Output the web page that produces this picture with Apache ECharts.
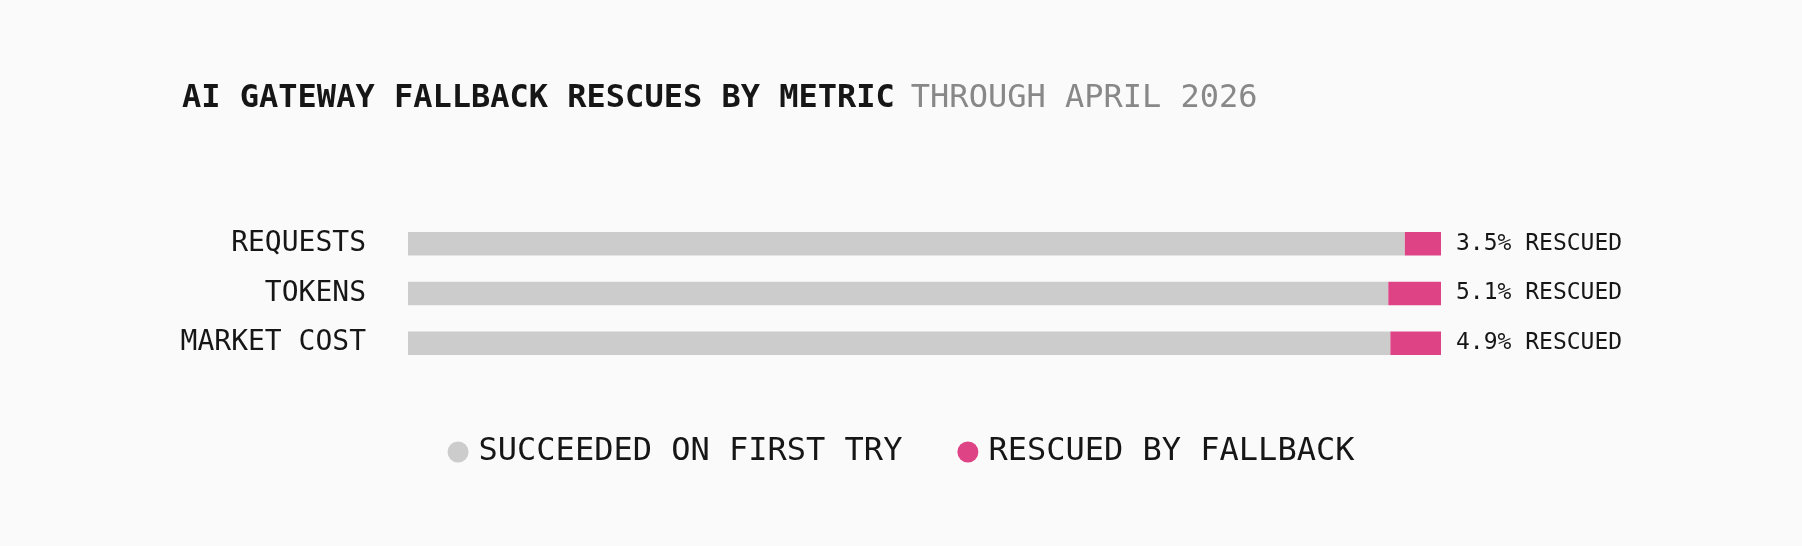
<!DOCTYPE html>
<html>
<head>
<meta charset="utf-8">
<script src="https://cdn.jsdelivr.net/npm/echarts@6/dist/echarts.min.js"></script>
<style>
html,body{margin:0;padding:0;background:#fafafa;}
#chart{width:1802px;height:546px;}
</style>
</head>
<body>
<div id="chart"></div>
<script>
const categories = ['REQUESTS', 'TOKENS', 'MARKET COST'];
const succeeded = [96.5, 94.9, 95.1];
const rescued = [3.5, 5.1, 4.9];
const seriesNames = ['SUCCEEDED ON FIRST TRY', 'RESCUED BY FALLBACK'];
const titleText = 'AI GATEWAY FALLBACK RESCUES BY METRIC';
const subtitleText = 'THROUGH APRIL 2026';

const FONT = '"DejaVu Sans Mono", "Liberation Mono", monospace';
const chart = echarts.init(document.getElementById('chart'), null, {renderer: 'canvas'});
chart.setOption({
  backgroundColor: '#fafafa',
  animation: false,
  title: {
    left: 182,
    top: 79,
    padding: 0,
    text: '{a|' + titleText + '}{b|' + subtitleText + '}',
    textStyle: {
      rich: {
        a: {fontFamily: FONT, fontSize: 32, fontWeight: 'bold', color: '#161616', lineHeight: 40},
        b: {fontFamily: FONT, fontSize: 32, fontWeight: 'normal', color: '#888888', lineHeight: 40, padding: [0, 0, 0, 16]}
      }
    }
  },
  legend: {
    left: 'center',
    top: 431,
    itemWidth: 21,
    itemHeight: 21,
    itemGap: 55,
    icon: 'circle',
    data: seriesNames,
    textStyle: {fontFamily: FONT, fontSize: 32, color: '#161616', padding: [0, 0, 0, 5]}
  },
  grid: {left: 408, right: 361, top: 219, bottom: 178, containLabel: false},
  xAxis: {
    type: 'value', min: 0, max: 100, show: false
  },
  yAxis: {
    type: 'category',
    data: categories,
    inverse: true,
    axisLine: {show: false},
    axisTick: {show: false},
    axisLabel: {fontFamily: FONT, fontSize: 28, color: '#161616', margin: 42, padding: [4, 0, 0, 0]}
  },
  series: [
    {
      name: seriesNames[0], type: 'bar', stack: 'total', data: succeeded,
      barWidth: 23.5, itemStyle: {color: '#cccccc'}
    },
    {
      name: seriesNames[1], type: 'bar', stack: 'total', data: rescued,
      barWidth: 23.5, itemStyle: {color: '#dd4385'},
      label: {
        show: true, position: 'right', distance: 15,
        fontFamily: FONT, fontSize: 23, color: '#161616', padding: [2, 0, 0, 0],
        formatter: p => p.value.toFixed(1) + '% RESCUED'
      }
    }
  ]
});
</script>
</body>
</html>
